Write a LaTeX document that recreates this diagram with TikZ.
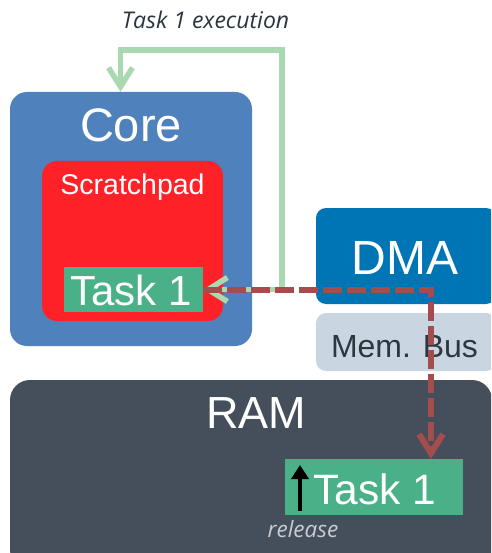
\documentclass[tikz,border=0pt]{standalone}
\usepackage{fontspec}
\setmainfont{Liberation Sans}
\newfontfamily\notefont{Open Sans}
\usetikzlibrary{arrows.meta}
\definecolor{coreblue}{RGB}{79,129,189}
\definecolor{padred}{RGB}{255,33,40}
\definecolor{taskgreen}{RGB}{74,176,136}
\definecolor{dmablue}{RGB}{0,117,181}
\definecolor{busgray}{RGB}{201,213,224}
\definecolor{bustext}{RGB}{46,55,64}
\definecolor{ramgray}{RGB}{68,79,91}
\definecolor{flowgreen}{RGB}{170,216,176}
\definecolor{flowred}{RGB}{163,77,77}
\definecolor{notedark}{RGB}{43,53,64}
\definecolor{notelight}{RGB}{200,204,208}
\tikzset{
  block/.style={draw=none, inner sep=0pt, rounded corners=#1},
  block/.default=10pt,
  label/.style={anchor=base, inner sep=0pt, text=white},
  fs/.style={font=\fontsize{#1}{#1}\selectfont},
  note/.style={anchor=base, inner sep=0pt, font=\notefont\itshape\fontsize{#1}{#1}\selectfont},
  execflow/.style={draw=flowgreen, line width=5.5pt, {Straight Barb[length=19pt,width=24pt]}-{Straight Barb[length=19pt,width=24pt]}},
  dmaflow/.style={draw=flowred, line width=6pt, dash pattern=on 19pt off 5pt, -{Straight Barb[length=19pt,width=24pt]}},
  releasearrow/.style={draw=black, line width=4pt, -{Triangle[length=14pt,width=17pt]}}
}
\begin{document}
\begin{tikzpicture}[x=1pt,y=-1pt]
\useasboundingbox (0,0) rectangle (491,553);
\clip (0,0) rectangle (491,553);
\fill[white] (0,0) rectangle (491,553);

% processing core with its scratchpad memory
\node[block=17pt, fill=coreblue, minimum width=242pt, minimum height=254pt] (core) at (131,219) {};
\node[label, fs=47] (corelbl) at (131,142) {Core};
\node[block=15pt, fill=padred, minimum width=181pt, minimum height=160pt] (pad) at (132.5,241) {};
\node[label, fs=28.5] (padlbl) at (132.5,195) {Scratchpad};
\node[block=0pt, fill=taskgreen, minimum width=139pt, minimum height=45pt] (coretask) at (133.5,289.5) {};
\node[label, fs=42] (coretasklbl) at (131,305) {Task 1};

% DMA engine and memory bus
\node[block=10pt, fill=dmablue, minimum width=180pt, minimum height=96pt] (dma) at (406,256) {};
\node[label, fs=48] (dmalbl) at (405,274) {DMA};
\node[block=10pt, fill=busgray, minimum width=180pt, minimum height=58pt] (bus) at (406,342) {};
\node[label, fs=32, text=bustext] (buslbl) at (404.5,357) {Mem. Bus};

% main memory
\node[block=20pt, fill=ramgray, minimum width=482pt, minimum height=190pt] (ram) at (251,475) {};
\node[label, fs=45] (ramlbl) at (256,428) {RAM};
\node[block=0pt, fill=taskgreen, minimum width=178pt, minimum height=56pt] (ramtask) at (374,487) {};
\node[label, fs=42.5] (ramtasklbl) at (374.5,504) {Task 1};

% annotations
\node[note=23, text=notedark] (execlbl) at (205.5,29) {Task 1 execution};
\node[note=22.5, text=notelight] (rellbl) at (303,537) {release};

% execution loop back to the core
\coordinate (gc1) at (282,50);
\coordinate (gc2) at (120.5,50);
\draw[execflow] (coretask.east) -| (gc1) -- (gc2) -- (gc2 |- core.north);

% DMA transfer of the task into RAM
\coordinate (rc) at (431,289.5);
\draw[dmaflow] (coretask.east) -- (rc) -- (rc |- ramtask.north);

% release marker
\coordinate (relbase) at (300,511);
\coordinate (reltip) at (300,465);
\draw[releasearrow] (relbase) -- (reltip);
\end{tikzpicture}
\end{document}
